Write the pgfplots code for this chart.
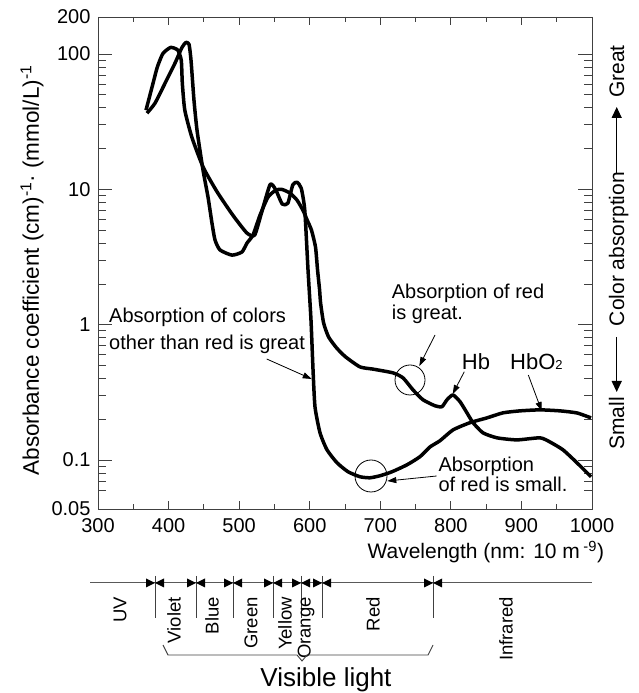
\documentclass[border=0pt]{standalone}
\usepackage{pgfplots}
\pgfplotsset{compat=1.18}
\usepackage{fontspec}
\setmainfont{Liberation Sans}
\usetikzlibrary{arrows.meta}

\pgfplotstableread{
lam val
368 38.5
378 60.9
384 80
392 101
403 112
413 107
418 90
419.5 60.9
423 38.5
433 24.3
449 14.6
469 9.55
491 6.46
511 4.76
522 4.6
532 6.8
544 10.9
552 9.9
561 7.8
569 7.9
576 10.8
582 11.3
588 10.2
593 7.03
597.6 2.54
601.8 1.085
604.7 0.464
607.5 0.247
614.6 0.159
624.5 0.119
638.7 0.0955
654.3 0.082
671.3 0.0753
685.4 0.074
699.6 0.0766
716.6 0.082
737.9 0.0923
756.3 0.106
770.4 0.125
784.6 0.139
803 0.167
827.1 0.189
851.2 0.205
873.9 0.2234
898 0.231
926.3 0.235
954.7 0.231
978.7 0.223
998.6 0.205
}\hbotwo

\pgfplotstableread{
lam val
369.4 36.6
380.8 43.4
395 60.9
409 85.5
419 112
424.7 122
429 118
431.8 90
436 45.6
440.3 27.4
448.8 13.9
455.9 8.77
461.5 5.64
465.8 4.23
472.9 3.57
489.9 3.27
504 3.45
511.1 4.01
519.6 4.6
529.6 6.46
540.9 8.77
552.2 9.9
560.7 10.0
572 9.4
582 8.34
590.5 7.0
596 6.0
602.5 5.0
608.2 3.75
611.1 2.54
614 1.81
615.4 1.45
619.7 1.03
626.7 0.813
638.1 0.674
650.8 0.579
671.3 0.488
689.7 0.47
718 0.441
732.2 0.405
746.4 0.33
760.5 0.279
777.5 0.252
787.4 0.248
794.5 0.279
803 0.303
813 0.27
822.9 0.223
831.4 0.189
845.5 0.159
865.4 0.146
893.7 0.141
926.3 0.146
940.5 0.136
958.9 0.119
978.7 0.0955
998.6 0.0753
}\hb

\newcommand{\fs}[1]{\fontsize{#1}{#1}\selectfont}

\begin{document}
\begin{tikzpicture}[x=1pt,y=1pt]
\useasboundingbox (0,0) rectangle (638,693);
% axis 1: y ticks (long) and y labels
\begin{axis}[
  at={(98pt,184pt)}, anchor=south west,
  width=494pt, height=492pt, scale only axis,
  xmin=300, xmax=1000, ymode=log, ymin=0.0435, ymax=188,
  xtick=\empty, xminorticks=false,
  ytick={0.0435,0.1,1,10,100,188},
  yticklabels={0.05,0.1,1,10,100,200},
  minor ytick={0.06,0.07,0.08,0.09,0.2,0.3,0.4,0.5,0.6,0.7,0.8,0.9,2,3,4,5,6,7,8,9,20,30,40,50,60,70,80,90},
  tick align=inside, major tick length=14pt, minor tick length=8pt,
  ymajorticks=true, yminorticks=true,
  axis line style={line width=0.9pt, black!75},
  every tick/.style={line width=0.9pt, black!75},
  yticklabel style={font=\fs{20}, xshift=-4pt},
  ylabel={Absorbance coefficient (cm)\textsuperscript{-1}· (mmol/L)\textsuperscript{-1}},
  ylabel style={font=\fs{22.5}, at={(rel axis cs:-0.1336,0.485)}, anchor=center},
]
\end{axis}
% axis 2: x ticks and curves
\begin{axis}[
  at={(98pt,184pt)}, anchor=south west,
  width=494pt, height=492pt, scale only axis,
  xmin=300, xmax=1000, ymode=log, ymin=0.0435, ymax=188,
  ytick=\empty, yminorticks=false,
  xtick={300,400,...,1000}, minor xtick={350,450,...,950},
  tick align=inside, major tick length=8pt, minor tick length=5pt,
  axis line style={line width=0.9pt, black!75},
  every tick/.style={line width=0.9pt, black!75},
  /pgf/number format/assume math mode=true,
  /pgf/number format/1000 sep={},
  xticklabel style={font=\fs{20}, yshift=-6pt},
  xlabel={Wavelength (nm: 10 m\,\textsuperscript{-9})},
  xlabel style={font=\fs{21}, at={(rel axis cs:0.785,0)}, anchor=center, yshift=-43pt},
]
\addplot[black, line width=3.5pt, line join=round, smooth, tension=0.35] table[x=lam,y=val] {\hbotwo};
\addplot[black, line width=3.5pt, line join=round, smooth, tension=0.35] table[x=lam,y=val] {\hb};
\end{axis}

% annotations (image px coordinates: y_pic = 693 - y_img)
\node[font=\fs{20}, anchor=base west, inner sep=0] at (109,693-322.5) {Absorption of colors};
\node[font=\fs{20}, anchor=base west, inner sep=0] at (109,693-350) {other than red is great};
\draw[line width=0.8pt, -{Triangle[length=9pt,width=6pt]}] (266.7,693-359) -- (311.7,693-379);

\node[font=\fs{20}, anchor=base west, inner sep=0] at (391.7,693-299) {Absorption of red};
\node[font=\fs{20}, anchor=base west, inner sep=0] at (391.7,693-320) {is great.};
\draw[line width=0.8pt, -{Triangle[length=9pt,width=6pt]}] (435,693-335) -- (419.3,693-366);
\draw[line width=0.8pt] (410,693-380) circle (15);

\node[font=\fs{22}, anchor=base west, inner sep=0] at (461.7,693-370) {Hb};
\node[font=\fs{22}, anchor=base west, inner sep=0] at (510,693-370) {HbO{\fs{13}2}};
\draw[line width=0.8pt, -{Triangle[length=9pt,width=6pt]}] (464.3,693-371.7) -- (452.7,693-394);
\draw[line width=0.8pt, -{Triangle[length=9pt,width=6pt]}] (528.3,693-375) -- (541.7,693-411);

\node[font=\fs{20}, anchor=base west, inner sep=0] at (438.3,693-471.7) {Absorption};
\node[font=\fs{20}, anchor=base west, inner sep=0] at (438.3,693-492) {of red is small.};
\draw[line width=0.8pt, -{Triangle[length=9pt,width=6pt]}] (436.7,693-476) -- (387.3,693-481);
\draw[line width=0.8pt] (371,693-476) circle (16);

% right-hand label
\node[font=\fs{21}, rotate=90, anchor=base, inner sep=0] at (624,693-71.5) {Great};
\draw[line width=1.2pt, -{Triangle[length=11pt,width=10pt]}] (616.7,693-173) -- (616.7,693-107);
\node[font=\fs{21}, rotate=90, anchor=base, inner sep=0] at (624,693-249) {Color absorption};
\draw[line width=1.2pt, -{Triangle[length=11pt,width=10pt]}] (616.7,693-337) -- (616.7,693-392);
\node[font=\fs{21}, rotate=90, anchor=base, inner sep=0] at (624,693-423.5) {Small};

% spectrum bar
\draw[line width=1pt, black!65] (90,110) -- (592,110);
\foreach \bx in {155,196,233,273,301,322,433} {
  \draw[line width=0.9pt, black!75] (\bx,117) -- (\bx,75);
  \fill (\bx,110) -- (\bx-9,114.5) -- (\bx-9,105.5) -- cycle;
  \fill (\bx,110) -- (\bx+9,114.5) -- (\bx+9,105.5) -- cycle;
}
\foreach \lx/\lab in {120/UV,174/Violet,212/Blue,251/Green,285/Yellow,306/Orange,373/Red,506/Infrared} {
  \node[font=\fs{18.5}, rotate=90, anchor=east, inner sep=0] at (\lx,693-597) {\lab};
}
\draw[line width=0.9pt, black!75] (163,693-645) -- (168,693-655) -- (297,693-655) -- (302,693-661) -- (307,693-655) -- (428,693-655) -- (433,693-645);
\node[font=\fs{26}, anchor=center] at (326,693-680) {Visible light};
\end{tikzpicture}
\end{document}
